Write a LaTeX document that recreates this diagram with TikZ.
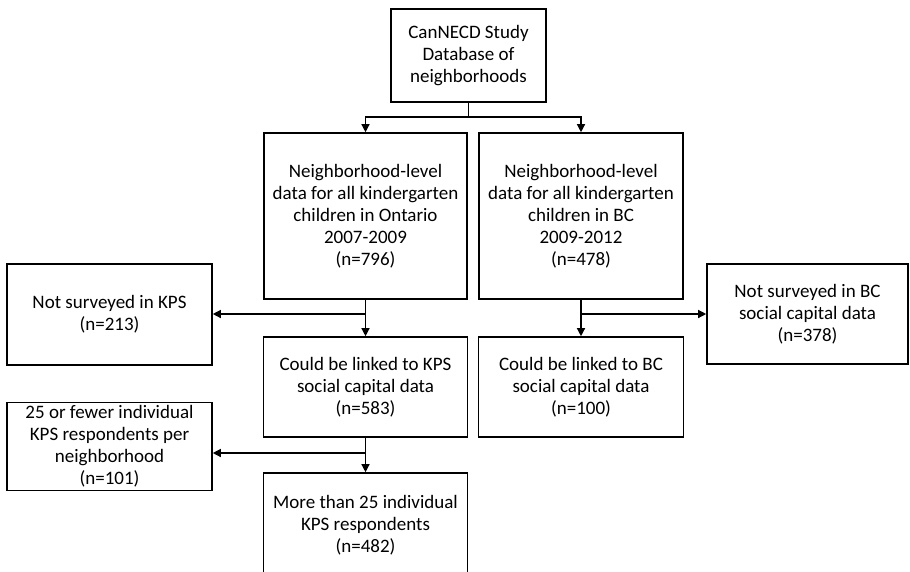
\documentclass[tikz,border=0pt]{standalone}
\usepackage{fontspec}
\setmainfont{Carlito}
\usetikzlibrary{arrows.meta}
\newlength{\du}
\setlength{\du}{1pt}
\tikzset{
  flowbox/.style={draw=black, line width=1.6\du, inner sep=0pt, align=center,
    font=\fontsize{19pt}{22pt}\selectfont},
  flowarrow/.style={line width=1.3\du, -{Triangle[length=8pt,width=8pt]}},
  flowline/.style={line width=1.3\du}
}

\begin{document}
\begin{tikzpicture}
\pgftransformxscale{1.000000}
\pgftransformyscale{-1.000000}
\clip (0\du,0\du) rectangle (910\du,571\du);
% boxes
\node[flowbox, minimum width=155\du, minimum height=93\du] (db) at (468.5\du,55.5\du)
  {CanNECD Study\\Database of\\neighborhoods};
\node[flowbox, minimum width=203\du, minimum height=166\du] (ontario) at (365.5\du,216\du)
  {Neighborhood-level\\data for all kindergarten\\children in Ontario\\2007-2009\\(n=796)};
\node[flowbox, minimum width=204\du, minimum height=166\du] (bc) at (581\du,216\du)
  {Neighborhood-level\\data for all kindergarten\\children in BC\\2009-2012\\(n=478)};
\node[flowbox, minimum width=205\du, minimum height=101\du] (notkps) at (109.5\du,314.5\du)
  {Not surveyed in KPS\\(n=213)};
\node[flowbox, minimum width=201\du, minimum height=100\du] (notbc) at (807.5\du,314\du)
  {Not surveyed in BC\\social capital data\\(n=378)};
\node[flowbox, minimum width=204\du, minimum height=100\du] (kpslink) at (365.5\du,387\du)
  {Could be linked to KPS\\social capital data\\(n=583)};
\node[flowbox, minimum width=205\du, minimum height=100\du] (bclink) at (581\du,387\du)
  {Could be linked to BC\\social capital data\\(n=100)};
\node[flowbox, minimum width=205\du, minimum height=88\du] (fewer) at (109.5\du,446.5\du)
  {25 or fewer individual\\KPS respondents per\\neighborhood\\(n=101)};
\node[flowbox, minimum width=204\du, minimum height=104\du] (more) at (365.5\du,525\du)
  {More than 25 individual\\KPS respondents\\(n=482)};
% split below the database
\coordinate (dbjoin) at (468.5\du,117\du);
\draw[flowline] (db.south) -- (dbjoin);
\draw[flowarrow] (dbjoin) -| (ontario.north);
\draw[flowarrow] (dbjoin) -| (bc.north);
% Ontario branch
\coordinate (onjoin) at (365.5\du,314\du);
\draw[flowarrow] (ontario.south) -- (kpslink.north);
\draw[flowarrow] (onjoin) -- (onjoin -| notkps.east);
% BC branch
\coordinate (bcjoin) at (581\du,314\du);
\draw[flowarrow] (bc.south) -- (bclink.north);
\draw[flowarrow] (bcjoin) -- (bcjoin -| notbc.west);
% KPS respondents branch
\coordinate (kpsjoin) at (365.5\du,453\du);
\draw[flowarrow] (kpslink.south) -- (more.north);
\draw[flowarrow] (kpsjoin) -- (kpsjoin -| fewer.east);
\end{tikzpicture}
\end{document}
